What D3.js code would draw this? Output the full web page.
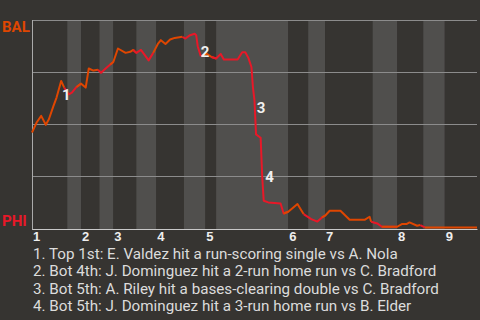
<!DOCTYPE html>
<meta charset="utf-8">
<style>
body { margin:0; background:#363431; }
svg { display:block; font-family:Roboto, sans-serif; }
.team { font-weight:bold; font-size:15px; }
.marker { font-weight:bold; font-size:15px; fill:#f0f0f0; }
.note { font-size:15.2px; fill:#dcdcdc; }
.inn text { font-weight:bold; font-size:13px; fill:#eee; }
</style>
<body>
<div id="chart"></div>
<script src="https://d3js.org/d3.v7.min.js"></script>
<script>
// win probability for BAL, by pitch of the game
var pitch = [0, 3, 6, 9, 11, 14, 16, 19, 21, 24, 26, 29, 32, 35, 37, 40, 43, 45, 48, 51,
  53, 56, 61, 64, 66, 68, 71, 74, 76, 79, 82, 84, 87, 90, 93, 98, 100, 103, 106, 107,
  108, 110, 114, 117, 120, 123, 125, 134, 137, 139, 141, 143, 144, 145, 146, 149, 150, 151, 154, 162,
  164, 167, 173, 177, 182, 186, 189, 191, 194, 201, 207, 217, 220, 221, 225, 228, 238, 241, 244, 246,
  251, 253, 256, 290];
var winProb = [0.459, 0.507, 0.539, 0.496, 0.523, 0.587, 0.627, 0.707, 0.675, 0.643, 0.651, 0.678, 0.694, 0.675, 0.767, 0.757, 0.761, 0.746, 0.767, 0.786,
  0.798, 0.863, 0.842, 0.847, 0.856, 0.842, 0.856, 0.826, 0.806, 0.842, 0.885, 0.903, 0.885, 0.906, 0.914, 0.919, 0.911, 0.927, 0.934, 0.927,
  0.874, 0.826, 0.837, 0.822, 0.815, 0.837, 0.810, 0.810, 0.845, 0.845, 0.818, 0.774, 0.675, 0.612, 0.450, 0.434, 0.250, 0.131, 0.123, 0.118,
  0.070, 0.078, 0.115, 0.067, 0.043, 0.031, 0.051, 0.059, 0.083, 0.083, 0.040, 0.040, 0.054, 0.030, 0.022, 0.006, 0.006, 0.019, 0.019, 0.027,
  0.011, 0.014, 0.003, 0.003];

// first pitch of each half inning (top 1st, bot 1st, top 2nd ...)
var halfStarts = [0, 23, 32, 44, 53, 68, 81, 99, 113, 120, 167, 180, 191, 222, 238, 255, 269];
var lastPitch = 290;
var innings = ["1", "2", "3", "4", "5", "6", "7", "8", "9"];

var markPitch = [19.5, 110, 146.5, 152];
var markProb = [0.614, 0.822, 0.554, 0.222];
var notes = [
  "1. Top 1st: E. Valdez hit a run-scoring single vs A. Nola",
  "2. Bot 4th: J. Dominguez hit a 2-run home run vs C. Bradford",
  "3. Bot 5th: A. Riley hit a bases-clearing double vs C. Bradford",
  "4. Bot 5th: J. Dominguez hit a 3-run home run vs B. Elder"
];

var awayColor = "#df4601", homeColor = "#e81828";

var width = 480, height = 320;
var pLeft = 32, pRight = 477, pTop = 20, pBottom = 228;

var svg = d3.select("#chart").append("svg")
    .attr("width", width)
    .attr("height", height);

var x = d3.scaleLinear().domain([0, lastPitch]).range([pLeft, pRight]);
var y = d3.scaleLinear().domain([0, 1]).range([pBottom, pTop]);

function halfEnd(i) { return i + 1 < halfStarts.length ? halfStarts[i + 1] : lastPitch; }

// half inning bands, bottom halves lighter
svg.append("g").selectAll("rect")
  .data(halfStarts)
  .enter().append("rect")
    .attr("x", function(d) { return x(d); })
    .attr("y", pTop)
    .attr("width", function(d, i) { return x(halfEnd(i)) - x(d); })
    .attr("height", pBottom + 1 - pTop)
    .attr("fill", function(d, i) { return i % 2 ? "#504f4d" : "#363431"; });

// gridlines
svg.append("g")
    .attr("transform", "translate(" + pLeft + ",0)")
    .call(d3.axisRight(y).tickValues([0.25, 0.5, 0.75, 1]).tickSize(pRight - pLeft).tickFormat(""))
    .call(function(g) { g.select(".domain").remove(); })
    .selectAll("line").attr("stroke", "#8c8c8c");

svg.append("line")
    .attr("x1", pLeft + 0.5).attr("x2", pLeft + 0.5)
    .attr("y1", pTop).attr("y2", pBottom + 2)
    .attr("stroke", "#aaa");

// inning axis
var tops = halfStarts.filter(function(d, i) { return i % 2 == 0; });
var ax = svg.append("g")
    .attr("class", "inn")
    .attr("transform", "translate(0," + (pBottom + 1) + ")")
    .call(d3.axisBottom(x).tickValues(tops).tickSize(0).tickSizeOuter(0).tickPadding(3)
      .tickFormat(function(d, i) { return innings[i]; }));
ax.select(".domain").attr("stroke", "#c8c8c8");
ax.selectAll("text").attr("text-anchor", "start").attr("dx", "0.4");

// win probability line, coloured by batting team
var pts = pitch.map(function(p, i) { return [p, winProb[i]]; });
var line = d3.line().x(function(d) { return x(d[0]); }).y(function(d) { return y(d[1]); });

halfStarts.forEach(function(s, i) {
  var e = halfEnd(i);
  var seg = pts.filter(function(d) { return d[0] >= s && d[0] <= e; });
  var prev = pts.filter(function(d) { return d[0] < s; }).pop();
  if (prev) seg.unshift(prev);
  if (seg.length < 2) return;
  svg.append("path")
    .attr("d", line(seg))
    .attr("fill", "none")
    .attr("stroke", i % 2 ? homeColor : awayColor)
    .attr("stroke-width", 2)
    .attr("stroke-linejoin", "round");
});

// markers
svg.append("g").selectAll("text")
  .data(markPitch)
  .enter().append("text")
    .attr("class", "marker")
    .attr("x", function(d) { return x(d); })
    .attr("y", function(d, i) { return y(markProb[i]); })
    .text(function(d, i) { return i + 1; });

// team labels
svg.append("text").attr("class", "team")
    .attr("x", 2).attr("y", y(1) + 11.5)
    .attr("fill", awayColor).text("BAL");
svg.append("text").attr("class", "team")
    .attr("x", 2).attr("y", y(0) - 2.5)
    .attr("fill", homeColor).text("PHI");

// notes
svg.append("g").selectAll("text")
  .data(notes)
  .enter().append("text")
    .attr("class", "note")
    .attr("x", 33)
    .attr("y", function(d, i) { return 258.5 + i * 17.5; })
    .text(function(d) { return d; });
</script>
</body>
</html>
